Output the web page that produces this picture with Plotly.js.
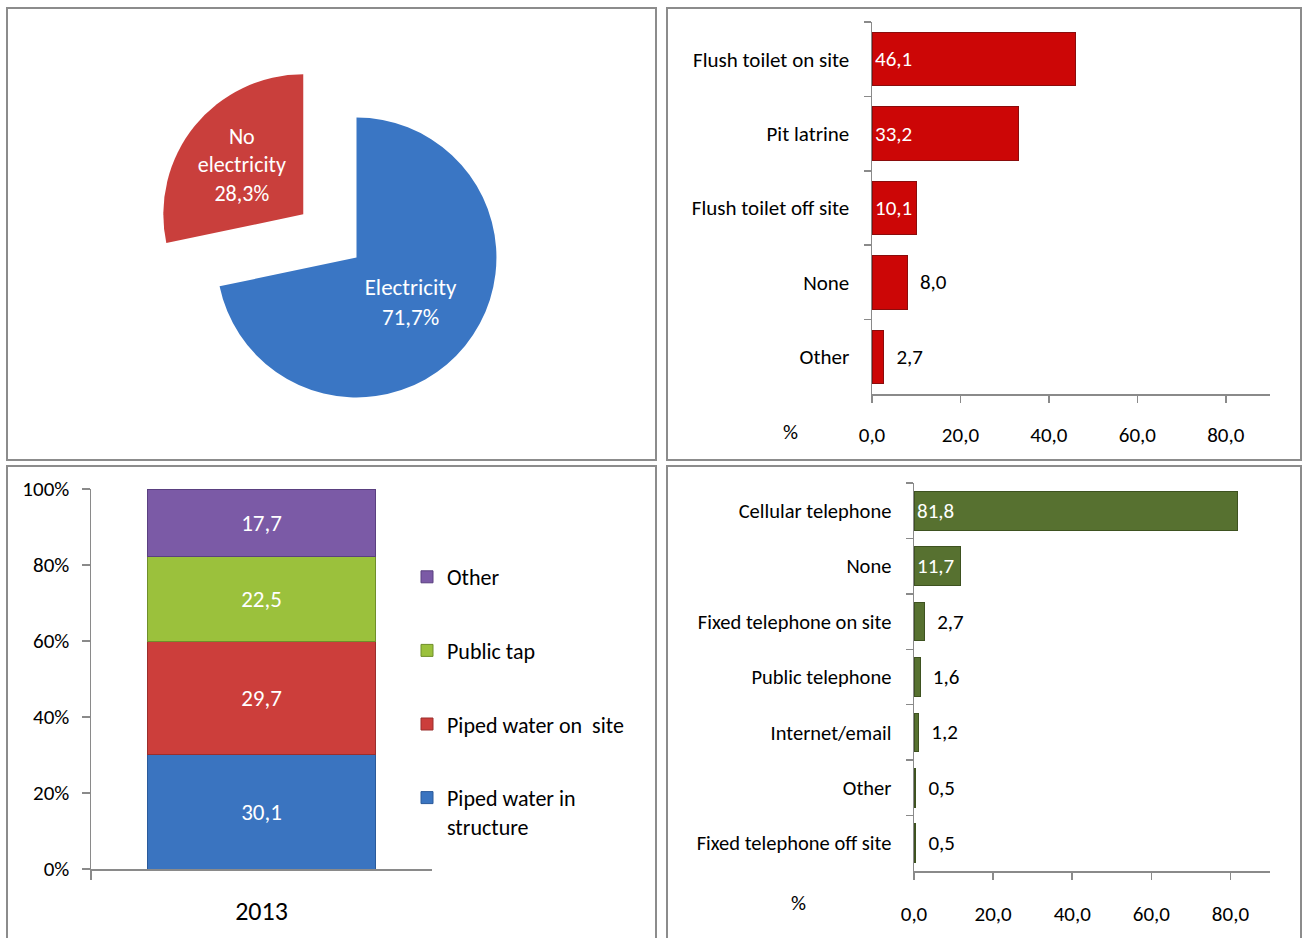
<!DOCTYPE html>
<html>
<head>
<meta charset="utf-8">
<script src="https://cdn.plot.ly/plotly-3.0.1.min.js"></script>
<style>html,body{margin:0;padding:0;background:#fff;}#chart{width:1303px;height:938px;}</style>
</head>
<body>
<div id="chart"></div>
<script>
// ---- data ----
const electricityLabels = ["Electricity", "No electricity"];
const electricityValues = [71.7, 28.3];

const sanitationCategories = ["Flush toilet on site", "Pit latrine", "Flush toilet off site", "None", "Other"];
const sanitationValues = [46.1, 33.2, 10.1, 8.0, 2.7];

const waterYear = ["2013"];
const waterSeries = ["Piped water in<br>structure", "Piped water on  site", "Public tap", "Other"];
const waterValues = [30.1, 29.7, 22.5, 17.7];

const telecomCategories = ["Cellular telephone", "None", "Fixed telephone on site", "Public telephone", "Internet/email", "Other", "Fixed telephone off site"];
const telecomValues = [81.8, 11.7, 2.7, 1.6, 1.2, 0.5, 0.5];

const xTickVals = [0, 20, 40, 60, 80];
const pctTickVals = [0, 20, 40, 60, 80, 100];

// ---- helpers ----
const W = 1303, H = 938;
const px = v => v / W;
const py = v => 1 - v / H;
const fmt = v => v.toFixed(1).replace('.', ',');
const NB = '\u00a0\u00a0';
const FONT = "Carlito, Calibri, 'Liberation Sans Narrow', sans-serif";
const AX = '#8a8a8a';

const traces = [];

// Pie
traces.push({
  type: 'pie',
  labels: electricityLabels,
  values: electricityValues,
  text: electricityLabels.map((l, i) => (l === 'No electricity' ? 'No<br>electricity' : l) + '<br>' + fmt(electricityValues[i]) + '%'),
  textinfo: 'text',
  textposition: 'inside',
  insidetextorientation: 'horizontal',
  textfont: {family: FONT, size: 23, color: '#ffffff'},
  sort: false,
  direction: 'clockwise',
  rotation: 0,
  pull: [0, 0.49],
  marker: {colors: ['#3a76c4', '#c93f3c'], line: {width: 0}},
  domain: {x: [px(148), px(565)], y: [py(466), py(49)]},
  showlegend: false,
  hoverinfo: 'label+percent'
});

// Sanitation bars
traces.push({
  type: 'bar',
  orientation: 'h',
  y: sanitationCategories,
  x: sanitationValues,
  xaxis: 'x', yaxis: 'y',
  marker: {color: '#cc0606', line: {color: '#8a0c0c', width: 1}},
  width: 0.72,
  text: sanitationValues.map(v => v > 9 ? fmt(v) : NB + fmt(v)),
  textposition: sanitationValues.map(v => v > 9 ? 'inside' : 'outside'),
  insidetextanchor: 'start',
  constraintext: 'none',
  cliponaxis: false,
  insidetextfont: {family: FONT, size: 21, color: '#ffffff'},
  outsidetextfont: {family: FONT, size: 21, color: '#000000'},
  showlegend: false
});

// Water stacked bars
const waterColors = ['#3a74c0', '#cc3e3b', '#9bc13c', '#7b5aa6'];
const waterLines = ['#2a5a9a', '#9a2e2c', '#6f8f2a', '#5a4080'];
waterSeries.forEach((name, i) => {
  traces.push({
    type: 'bar',
    x: waterYear,
    y: [waterValues[i]],
    name: name,
    legendgroup: 'g' + i,
    legendrank: 10 - i,
    xaxis: 'x2', yaxis: 'y2',
    marker: {color: waterColors[i], line: {color: waterLines[i], width: 1}},
    width: 0.67,
    text: [fmt(waterValues[i])],
    textposition: 'inside',
    insidetextanchor: 'middle',
    constraintext: 'none',
    textfont: {family: FONT, size: 23, color: '#ffffff'},
    showlegend: true
  });
});

// Telecom bars
traces.push({
  type: 'bar',
  orientation: 'h',
  y: telecomCategories,
  x: telecomValues,
  xaxis: 'x3', yaxis: 'y3',
  marker: {color: '#577130', line: {color: '#3e5220', width: 1}},
  width: 0.7,
  text: telecomValues.map(v => v > 9 ? fmt(v) : NB + fmt(v)),
  textposition: telecomValues.map(v => v > 9 ? 'inside' : 'outside'),
  insidetextanchor: 'start',
  constraintext: 'none',
  cliponaxis: false,
  insidetextfont: {family: FONT, size: 21, color: '#ffffff'},
  outsidetextfont: {family: FONT, size: 21, color: '#000000'},
  showlegend: false
});

const panel = (x0, y0, x1, y1) => ({
  type: 'rect', xref: 'paper', yref: 'paper',
  x0: px(x0), x1: px(x1), y0: py(y1), y1: py(y0),
  line: {color: '#8c8c8c', width: 2}, fillcolor: 'rgba(0,0,0,0)', layer: 'below'
});

const layout = {
  width: W, height: H,
  margin: {l: 0, r: 0, t: 0, b: 0, pad: 0},
  paper_bgcolor: '#ffffff', plot_bgcolor: 'rgba(0,0,0,0)',
  separators: ', ',
  font: {family: FONT, size: 21, color: '#000000'},
  barmode: 'stack',
  showlegend: true,
  legend: {
    x: px(407), y: py(556), xanchor: 'left', yanchor: 'top',
    traceorder: 'grouped', tracegroupgap: 42,
    valign: 'top',
    font: {family: FONT, size: 22, color: '#000000'},
    bgcolor: 'rgba(0,0,0,0)', itemwidth: 30
  },
  xaxis: {
    domain: [px(872), px(1270)], anchor: 'y',
    range: [0, 90], tickvals: xTickVals, tickformat: '.1f',
    showgrid: false, zeroline: false,
    showline: true, linecolor: AX, linewidth: 1.5,
    ticks: 'outside', ticklen: 7, tickcolor: AX, tickwidth: 1.5,
    ticklabelstandoff: 14,
    tickfont: {family: FONT, size: 21}
  },
  yaxis: {
    domain: [py(394), py(22)], anchor: 'x',
    autorange: 'reversed', type: 'category',
    showgrid: false, zeroline: false,
    showline: true, linecolor: AX, linewidth: 1.5,
    ticks: 'outside', tickson: 'boundaries', ticklen: 7, tickcolor: AX, tickwidth: 1.5,
    ticklabelstandoff: 17,
    tickfont: {family: FONT, size: 21}
  },
  xaxis2: {
    domain: [px(91), px(432)], anchor: 'y2',
    type: 'category', range: [-0.5, 0.5],
    showgrid: false, zeroline: false,
    showline: true, linecolor: AX, linewidth: 1.5,
    ticks: 'outside', tickson: 'boundaries', ticklen: 9, tickcolor: AX, tickwidth: 1.5,
    ticklabelstandoff: 18,
    tickfont: {family: FONT, size: 26}
  },
  yaxis2: {
    domain: [py(869), py(489)], anchor: 'x2',
    range: [0, 100], tickvals: pctTickVals, ticktext: pctTickVals.map(v => v + '%'),
    showgrid: false, zeroline: false,
    showline: true, linecolor: AX, linewidth: 1.5,
    ticks: 'outside', ticklen: 8, tickcolor: AX, tickwidth: 1.5,
    ticklabelstandoff: 8,
    tickfont: {family: FONT, size: 21}
  },
  xaxis3: {
    domain: [px(914), px(1270)], anchor: 'y3',
    range: [0, 90], tickvals: xTickVals, tickformat: '.1f',
    showgrid: false, zeroline: false,
    showline: true, linecolor: AX, linewidth: 1.5,
    ticks: 'outside', ticklen: 7, tickcolor: AX, tickwidth: 1.5,
    ticklabelstandoff: 16,
    tickfont: {family: FONT, size: 21}
  },
  yaxis3: {
    domain: [py(871), py(483)], anchor: 'x3',
    autorange: 'reversed', type: 'category',
    showgrid: false, zeroline: false,
    showline: true, linecolor: AX, linewidth: 1.5,
    ticks: 'outside', tickson: 'boundaries', ticklen: 7, tickcolor: AX, tickwidth: 1.5,
    ticklabelstandoff: 17,
    tickfont: {family: FONT, size: 20.5}
  },
  shapes: [
    panel(7, 8, 656, 460),
    panel(667, 8, 1301, 460),
    panel(7, 466, 656, 945),
    panel(667, 466, 1301, 945)
  ],
  annotations: [
    {xref: 'paper', yref: 'paper', x: px(790), y: py(432), text: '%', showarrow: false, font: {family: FONT, size: 21}},
    {xref: 'paper', yref: 'paper', x: px(798), y: py(918), text: '%', showarrow: false, font: {family: FONT, size: 21}}
  ]
};

Plotly.newPlot('chart', traces, layout, {staticPlot: true, displayModeBar: false});
</script>
</body>
</html>
